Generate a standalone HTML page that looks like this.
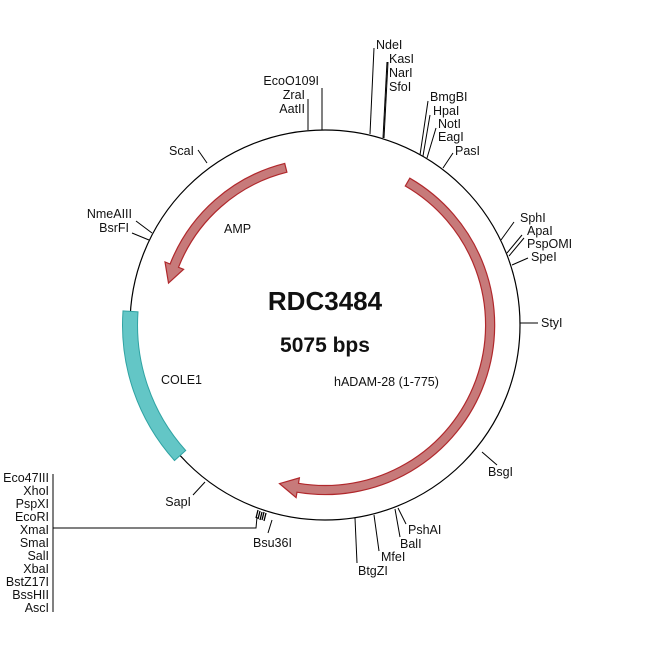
<!DOCTYPE html>
<html><head><meta charset="utf-8"><style>
body{margin:0;background:#fff}
svg{display:block}
text{font-family:"Liberation Sans",sans-serif;font-size:12.5px;fill:#111}
</style></head><body>
<svg id="s" width="650" height="650" viewBox="0 0 650 650">
<circle cx="325" cy="325" r="195" fill="none" stroke="#000" stroke-width="1.2"/>
<path id="cole" fill="#63c6c6" stroke="#2fa3a3" stroke-width="1"/>
<path id="amp" fill="#c77a7a" stroke="#b0282c" stroke-width="1.2"/>
<path id="adam" fill="#c77a7a" stroke="#b0282c" stroke-width="1.2"/>
<g stroke="#000" stroke-width="1" fill="none">
<line x1="322" y1="130" x2="322" y2="88"/>
<line x1="308" y1="130" x2="308" y2="99"/>
<line x1="370" y1="134" x2="374" y2="48"/>
<line x1="383" y1="138" x2="387" y2="62"/>
<line x1="384" y1="138" x2="388" y2="62"/>
<line x1="420" y1="155" x2="428" y2="101"/>
<line x1="423" y1="156" x2="430" y2="115"/>
<line x1="427" y1="158" x2="436" y2="128"/>
<line x1="443" y1="168" x2="453" y2="153"/>
<line x1="501" y1="240" x2="514" y2="222"/>
<line x1="507" y1="253" x2="522" y2="235"/>
<line x1="509" y1="256" x2="524" y2="238"/>
<line x1="512" y1="265" x2="528" y2="258"/>
<line x1="520" y1="323" x2="538" y2="323"/>
<line x1="482" y1="452" x2="497" y2="465"/>
<line x1="398" y1="508" x2="406" y2="524"/>
<line x1="395" y1="509" x2="400" y2="537"/>
<line x1="374" y1="515" x2="379" y2="551"/>
<line x1="355" y1="518" x2="357" y2="563"/>
<line x1="272" y1="520" x2="268" y2="533"/>
<line x1="205" y1="482" x2="193" y2="495"/>
<line x1="207" y1="163" x2="198" y2="150"/>
<line x1="152" y1="233" x2="136" y2="221"/>
<line x1="149" y1="240" x2="132" y2="233"/>
<polyline points="257,517 256,528 53,528"/>
<line x1="53" y1="474" x2="53" y2="612"/>
</g>
<g stroke="#000" stroke-width="1.3">
<line x1="258" y1="510" x2="256" y2="518"/><line x1="260" y1="511" x2="258" y2="519"/>
<line x1="262" y1="512" x2="260" y2="520"/><line x1="264" y1="512" x2="262" y2="520"/>
<line x1="266" y1="513" x2="264" y2="521"/>
</g>
<g text-anchor="end">
<text x="319" y="85">EcoO109I</text>
<text x="305" y="99">ZraI</text>
<text x="305" y="113">AatII</text>
<text x="194" y="155">ScaI</text>
<text x="132" y="218">NmeAIII</text>
<text x="129" y="232">BsrFI</text>
<text x="191" y="506">SapI</text>
<text x="49" y="482">Eco47III</text>
<text x="49" y="495">XhoI</text>
<text x="49" y="508">PspXI</text>
<text x="49" y="521">EcoRI</text>
<text x="49" y="534">XmaI</text>
<text x="49" y="547">SmaI</text>
<text x="49" y="560">SalI</text>
<text x="49" y="573">XbaI</text>
<text x="49" y="586">BstZ17I</text>
<text x="49" y="599">BssHII</text>
<text x="49" y="612">AscI</text>
</g>
<text x="376" y="49">NdeI</text>
<text x="389" y="63">KasI</text>
<text x="389" y="77">NarI</text>
<text x="389" y="91">SfoI</text>
<text x="430" y="101">BmgBI</text>
<text x="433" y="115">HpaI</text>
<text x="438" y="128">NotI</text>
<text x="438" y="141">EagI</text>
<text x="455" y="155">PasI</text>
<text x="520" y="222">SphI</text>
<text x="527" y="235">ApaI</text>
<text x="527" y="248">PspOMI</text>
<text x="531" y="261">SpeI</text>
<text x="541" y="327">StyI</text>
<text x="488" y="476">BsgI</text>
<text x="408" y="534">PshAI</text>
<text x="400" y="548">BalI</text>
<text x="381" y="561">MfeI</text>
<text x="358" y="575">BtgZI</text>
<text x="253" y="547">Bsu36I</text>
<text x="224" y="233">AMP</text>
<text x="161" y="384">COLE1</text>
<text x="334" y="386">hADAM-28 (1-775)</text>
<text x="325" y="310" text-anchor="middle" style="font-size:26px;font-weight:bold">RDC3484</text>
<text x="325" y="352" text-anchor="middle" style="font-size:21px;font-weight:bold">5075 bps</text>
</svg>
<script>
var cx=325,cy=325;
function P(a,r){a=a*Math.PI/180;return (cx+r*Math.sin(a)).toFixed(1)+','+(cy-r*Math.cos(a)).toFixed(1);}
function band(a1,a2,r,w){
 var ro=r+w/2,ri=r-w/2,lg=Math.abs(a2-a1)>180?1:0;
 return 'M'+P(a1,ro)+' A'+ro+','+ro+' 0 '+lg+' 1 '+P(a2,ro)+' L'+P(a2,ri)+' A'+ri+','+ri+' 0 '+lg+' 0 '+P(a1,ri)+' Z';
}
function arrowCW(a1,tip,r,w,hl,hw){
 var b=tip-hl,ro=r+w/2,ri=r-w/2,lg=(b-a1)>180?1:0;
 return 'M'+P(a1,ro)+' A'+ro+','+ro+' 0 '+lg+' 1 '+P(b,ro)+' L'+P(b,r+hw)+' L'+P(tip,r)+' L'+P(b,r-hw)+' L'+P(b,ri)+' A'+ri+','+ri+' 0 '+lg+' 0 '+P(a1,ri)+' Z';
}
function arrowCCW(a1,tip,r,w,hl,hw){
 var b=tip+hl,ro=r+w/2,ri=r-w/2,lg=(a1-b)>180?1:0;
 return 'M'+P(a1,ro)+' A'+ro+','+ro+' 0 '+lg+' 0 '+P(b,ro)+' L'+P(b,r+hw)+' L'+P(tip,r)+' L'+P(b,r-hw)+' L'+P(b,ri)+' A'+ri+','+ri+' 0 '+lg+' 1 '+P(a1,ri)+' Z';
}
document.getElementById('cole').setAttribute('d',band(228,274,195,15));
document.getElementById('adam').setAttribute('d',arrowCW(30,196,165,9,6.5,10));
document.getElementById('amp').setAttribute('d',arrowCCW(346,285,162,9,6.5,10));
</script>
</body></html>
